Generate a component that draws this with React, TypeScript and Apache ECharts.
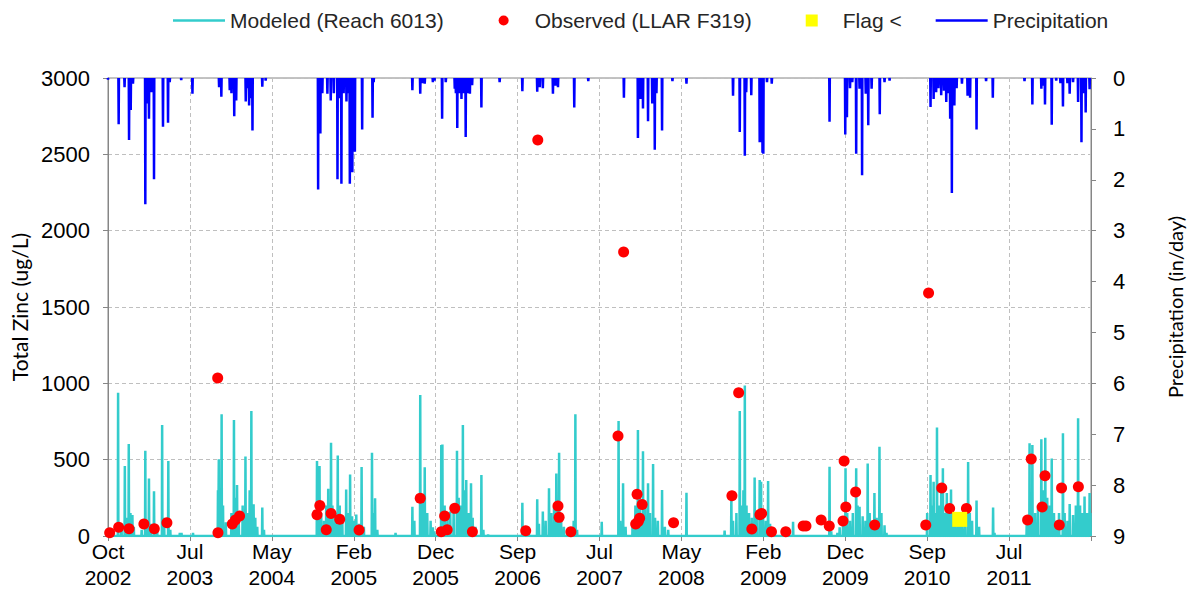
import React, { useEffect, useRef } from "react";
import * as echarts from "echarts";

// x values are days since 1 Oct 2002
const X_INTERVAL = 292;
const X_MAX = 3504;
const xTickLabels = [
  "Oct\n2002", "Jul\n2003", "May\n2004", "Feb\n2005", "Dec\n2005", "Sep\n2006",
  "Jul\n2007", "May\n2008", "Feb\n2009", "Dec\n2009", "Sep\n2010", "Jul\n2011", "",
];

// Modeled (Reach 6013) peaks: [day, ug/L]
const modeledPeaks: number[][] = [
  [36, 939], [48, 80], [60, 458], [68, 120], [74, 603], [80, 150], [87, 137], [92, 60], [120, 40],
  [133, 559], [140, 100], [146, 376], [152, 80], [164, 293], [175, 60], [193, 727], [200, 120],
  [215, 491], [222, 40], [256, 20], [262, 20], [303, 20],
  [392, 300], [395, 502], [405, 797], [410, 200], [420, 90], [440, 150], [449, 760], [455, 250],
  [460, 334], [466, 120], [480, 200], [490, 520], [496, 150], [505, 300], [511, 819], [519, 208],
  [525, 120], [532, 60], [550, 186], [556, 40],
  [745, 491], [754, 458], [760, 150], [770, 100], [778, 200], [785, 310], [795, 611], [800, 200],
  [810, 150], [819, 528], [826, 200], [835, 120], [849, 304], [856, 150], [863, 402], [870, 130],
  [876, 100], [885, 140], [895, 80], [904, 452], [912, 60], [941, 546], [947, 150], [952, 248],
  [960, 40], [1025, 20],
  [1085, 192], [1092, 100], [1113, 923], [1120, 250], [1129, 450], [1138, 150], [1150, 100],
  [1158, 57], [1163, 30], [1188, 596], [1192, 600], [1200, 200], [1210, 120], [1220, 160],
  [1232, 180], [1244, 559], [1250, 250], [1258, 200], [1265, 727], [1270, 300], [1277, 367],
  [1285, 150], [1294, 345], [1300, 120], [1310, 60], [1331, 399], [1338, 40], [1355, 10],
  [1477, 218], [1485, 30], [1500, 20], [1530, 240], [1536, 80], [1550, 160], [1560, 100],
  [1572, 312], [1580, 150], [1590, 200], [1598, 410], [1603, 200], [1608, 546], [1615, 150],
  [1625, 60], [1640, 40], [1660, 100], [1666, 797], [1672, 40], [1760, 94],
  [1820, 753], [1826, 100], [1836, 345], [1845, 60], [1870, 100], [1880, 200], [1889, 694],
  [1895, 250], [1900, 150], [1907, 555], [1915, 200], [1925, 345], [1932, 150], [1943, 472],
  [1950, 120], [1960, 100], [1975, 301], [1985, 60], [1997, 41], [2062, 284],
  [2198, 35], [2222, 258], [2228, 100], [2240, 150], [2252, 819], [2258, 200], [2265, 300],
  [2270, 985], [2276, 200], [2285, 150], [2295, 120], [2305, 383], [2312, 150], [2323, 367],
  [2328, 356], [2335, 150], [2345, 100], [2353, 360], [2360, 80], [2370, 30], [2442, 94],
  [2572, 454], [2578, 30], [2600, 20], [2608, 57], [2620, 100], [2629, 443], [2635, 150],
  [2645, 100], [2655, 150], [2667, 443], [2672, 200], [2679, 192], [2690, 130], [2700, 100],
  [2708, 475], [2715, 150], [2722, 100], [2732, 282], [2740, 120], [2750, 585], [2757, 150],
  [2768, 70], [2775, 20],
  [2920, 150], [2932, 400], [2937, 200], [2943, 356], [2950, 150], [2955, 710], [2962, 200],
  [2970, 300], [2976, 443], [2983, 150], [2990, 282], [2997, 150], [3005, 304], [3012, 150],
  [3020, 100], [3030, 120], [3036, 153], [3045, 80], [3055, 100], [3066, 485], [3072, 150],
  [3080, 100], [3096, 232], [3105, 60], [3155, 186], [3160, 20], [3185, 5],
  [3275, 100], [3285, 607], [3290, 150], [3295, 596], [3305, 150], [3315, 200], [3327, 633],
  [3333, 300], [3341, 644], [3348, 250], [3355, 200], [3364, 507], [3372, 150], [3380, 100],
  [3390, 150], [3404, 673], [3410, 150], [3420, 100], [3428, 210], [3440, 138], [3450, 200],
  [3458, 771], [3465, 200], [3472, 150], [3481, 258], [3490, 150], [3499, 282], [3502, 150],
];

// Observed (LLAR F319): [day, ug/L]
const observed: number[][] = [
  [6, 22], [38, 57], [75, 48], [128, 79], [165, 48], [210, 87], [391, 1035], [392, 22], [443, 79],
  [454, 105], [469, 131], [745, 140], [755, 199], [778, 41], [795, 148], [826, 109], [895, 39],
  [1113, 247], [1188, 28], [1200, 131], [1209, 41], [1236, 181], [1299, 28], [1489, 35],
  [1532, 2594], [1604, 197], [1608, 122], [1650, 28], [1818, 655], [1838, 1860], [1881, 79],
  [1886, 273], [1890, 95], [1895, 116], [1904, 207], [2016, 87], [2224, 264], [2248, 939],
  [2295, 46], [2324, 140], [2330, 148], [2365, 28], [2416, 28], [2478, 66], [2488, 66],
  [2542, 105], [2571, 66], [2620, 98], [2624, 491], [2630, 190], [2665, 288], [2733, 72],
  [2915, 72], [2925, 1592], [2972, 314], [3000, 180], [3060, 180], [3278, 105], [3291, 504],
  [3330, 190], [3340, 395], [3391, 72], [3399, 314], [3459, 323],
];

// Flag <
const flagged: number[][] = [[3036, 109]];

// Precipitation: [day, in/day]
const precipPeaks: number[][] = [
  [0, 0.03], [38, 0.91], [59, 0.18], [75, 1.22], [81, 0.63], [89, 0.11], [133, 2.48], [140, 0.5],
  [146, 0.8], [155, 0.28], [164, 1.99], [196, 0.96], [214, 0.88], [220, 0.08], [261, 0.04],
  [301, 0.31], [396, 0.18], [404, 0.37], [434, 0.24], [440, 0.3], [450, 0.75], [457, 0.44],
  [491, 0.46], [497, 0.2], [503, 0.54], [509, 0.4], [515, 1.03], [550, 0.17], [562, 0.05],
  [749, 2.19], [757, 1.09], [764, 0.3], [782, 0.31], [794, 0.44], [805, 0.3], [818, 1.99],
  [825, 0.4], [832, 2.08], [840, 0.3], [850, 0.46], [856, 0.3], [862, 2.08], [871, 1.85],
  [880, 1.45], [906, 1.01], [943, 0.78], [947, 0.08], [1085, 0.24], [1113, 0.31], [1120, 0.1],
  [1129, 0.11], [1158, 0.08], [1164, 0.05], [1191, 0.8], [1204, 0.08], [1236, 0.21], [1240, 0.3],
  [1245, 0.98], [1252, 0.3], [1260, 0.41], [1268, 0.3], [1275, 1.16], [1282, 0.3], [1290, 0.31],
  [1298, 0.14], [1331, 0.58], [1396, 0.08], [1477, 0.26], [1530, 0.27], [1539, 0.18], [1550, 0.2],
  [1586, 0.31], [1595, 0.15], [1604, 0.18], [1662, 0.58], [1712, 0.06], [1839, 0.39], [1889, 1.18],
  [1898, 0.41], [1907, 0.6], [1925, 0.85], [1940, 0.5], [1949, 1.41], [1955, 0.3], [1975, 1.03],
  [2012, 0.06], [2062, 0.11], [2228, 0.35], [2252, 1.06], [2270, 1.53], [2275, 0.28], [2293, 0.34],
  [2323, 1.26], [2327, 1.26], [2333, 1.47], [2336, 1.49], [2349, 0.08], [2366, 0.11], [2572, 0.86],
  [2628, 1.11], [2634, 0.77], [2645, 0.2], [2653, 0.08], [2667, 1.49], [2679, 0.21], [2688, 1.91],
  [2701, 0.31], [2710, 0.93], [2722, 0.21], [2751, 0.71], [2768, 0.08], [2786, 0.05], [2932, 0.57],
  [2943, 0.41], [2952, 0.28], [2960, 0.2], [2970, 0.34], [2980, 0.25], [2988, 0.47], [2995, 0.3],
  [3002, 0.8], [3008, 2.26], [3017, 0.54], [3025, 0.2], [3044, 0.11], [3064, 0.35], [3073, 0.39],
  [3096, 1.01], [3130, 0.06], [3154, 0.39], [3267, 0.06], [3295, 0.52], [3327, 0.21], [3335, 0.15],
  [3340, 0.52], [3364, 0.92], [3380, 0.05], [3395, 0.1], [3404, 0.56], [3420, 0.1], [3428, 0.31],
  [3440, 0.08], [3458, 0.47], [3470, 1.26], [3478, 0.3], [3485, 0.68], [3499, 0.22],
];

// daily series drop back to the zero baseline between events
function withBaseline(peaks: number[][], start: number, end: number): number[][] {
  const out: number[][] = [[start, 0]];
  for (const [d, v] of peaks) {
    out.push([d - 1, 0], [d, v], [d + 1, 0]);
  }
  out.push([end, 0]);
  return out;
}

// separate spikes hanging from the zero line (no drawn baseline along the top edge)
function spikesOnly(peaks: number[][]): (number[] | string)[] {
  const out: (number[] | string)[] = [];
  for (const [d, v] of peaks) {
    out.push([d - 1, 0], [d, v], [d + 1, 0], "-");
  }
  return out;
}

const AXIS_COLOR = "#868686";
const GRID_COLOR = "#bfbfbf";
const FONT = "Liberation Sans";

const ICON_LINE = "path://M0,0M52,12M0,4.75H52V7.25H0Z";
const ICON_DOT = "path://M0,0M52,12M21,6A5,5 0 1,0 31,6A5,5 0 1,0 21,6Z";
const ICON_SQUARE = "path://M0,0M52,12M20,0H32V12H20Z";

export default function App() {
  const ref = useRef<HTMLDivElement>(null);
  useEffect(() => {
    if (!ref.current) return;
    const chart = echarts.init(ref.current, undefined, { renderer: "svg" });
    chart.setOption({
      animation: false,
      backgroundColor: "#ffffff",
      grid: {
        left: 108,
        right: 100,
        top: 78,
        bottom: 69,
        show: true,
        borderColor: AXIS_COLOR,
        borderWidth: 1,
        containLabel: false,
        outerBoundsMode: "none",
      },
      legend: {
        top: 5,
        left: 168,
        itemWidth: 52,
        itemHeight: 12,
        itemGap: 34,
        textStyle: { fontFamily: FONT, fontSize: 21, color: "#262626" },
        data: [
          { name: "Modeled (Reach 6013)", icon: ICON_LINE },
          { name: "Observed (LLAR F319)", icon: ICON_DOT },
          { name: "Flag <", icon: ICON_SQUARE },
          { name: "Precipitation", icon: ICON_LINE },
        ],
      },
      xAxis: {
        type: "value",
        min: 0,
        max: X_MAX,
        interval: X_INTERVAL,
        axisLine: { show: true, lineStyle: { color: AXIS_COLOR } },
        axisTick: { show: true, length: 5, lineStyle: { color: AXIS_COLOR } },
        splitLine: { show: true, lineStyle: { color: GRID_COLOR, type: [4, 3] } },
        axisLabel: {
          fontFamily: FONT,
          fontSize: 21,
          color: "#000",
          lineHeight: 26,
          margin: 2,
          formatter: (v: number) => xTickLabels[Math.round(v / X_INTERVAL)] ?? "",
        },
      },
      yAxis: [
        {
          type: "value",
          min: 0,
          max: 3000,
          interval: 500,
          name: "Total Zinc (ug/L)",
          nameLocation: "middle",
          nameRotate: 90,
          nameGap: 72,
          nameTextStyle: { fontFamily: "Lato", fontSize: 21, color: "#000" },
          axisLine: { show: true, lineStyle: { color: AXIS_COLOR } },
          axisTick: { show: true, length: 5, lineStyle: { color: AXIS_COLOR } },
          splitLine: { show: true, lineStyle: { color: GRID_COLOR, type: [4, 3] } },
          axisLabel: {
            fontFamily: FONT,
            fontSize: 22,
            color: "#000",
            margin: 18,
            formatter: (v: number) => String(v),
          },
        },
        {
          type: "value",
          min: 0,
          max: 9,
          interval: 1,
          inverse: true,
          position: "right",
          name: "Precipitation (in/day)",
          nameLocation: "middle",
          nameRotate: 90,
          nameGap: 74,
          nameTextStyle: { fontFamily: "Lato", fontSize: 20, color: "#000" },
          axisLine: { show: true, lineStyle: { color: AXIS_COLOR } },
          axisTick: { show: true, length: 5, lineStyle: { color: AXIS_COLOR } },
          splitLine: { show: false },
          axisLabel: {
            fontFamily: FONT,
            fontSize: 22,
            color: "#000",
            margin: 22,
            formatter: (v: number) => String(v),
          },
        },
      ],
      series: [
        {
          name: "Precipitation",
          type: "line",
          yAxisIndex: 1,
          data: spikesOnly(precipPeaks),
          connectNulls: false,
          symbol: "none",
          lineStyle: { color: "#0000ff", width: 2.5 },
          itemStyle: { color: "#0000ff" },
          z: 2,
        },
        {
          name: "Modeled (Reach 6013)",
          type: "line",
          yAxisIndex: 0,
          data: withBaseline(modeledPeaks, 0, 3503),
          symbol: "none",
          lineStyle: { color: "#33cccc", width: 2.5 },
          itemStyle: { color: "#33cccc" },
          z: 3,
        },
        {
          name: "Observed (LLAR F319)",
          type: "scatter",
          yAxisIndex: 0,
          data: observed,
          symbol: "circle",
          symbolSize: 11,
          itemStyle: { color: "#ff0000", opacity: 1 },
          z: 4,
        },
        {
          name: "Flag <",
          type: "scatter",
          yAxisIndex: 0,
          data: flagged,
          symbol: "rect",
          symbolSize: 15,
          itemStyle: { color: "#ffff00", opacity: 1 },
          z: 5,
        },
      ],
    });
    return () => chart.dispose();
  }, []);
  return (
    <div
      ref={ref}
      style={{ position: "fixed", left: 0, top: 0, width: 1191, height: 605, background: "#fff" }}
    />
  );
}
